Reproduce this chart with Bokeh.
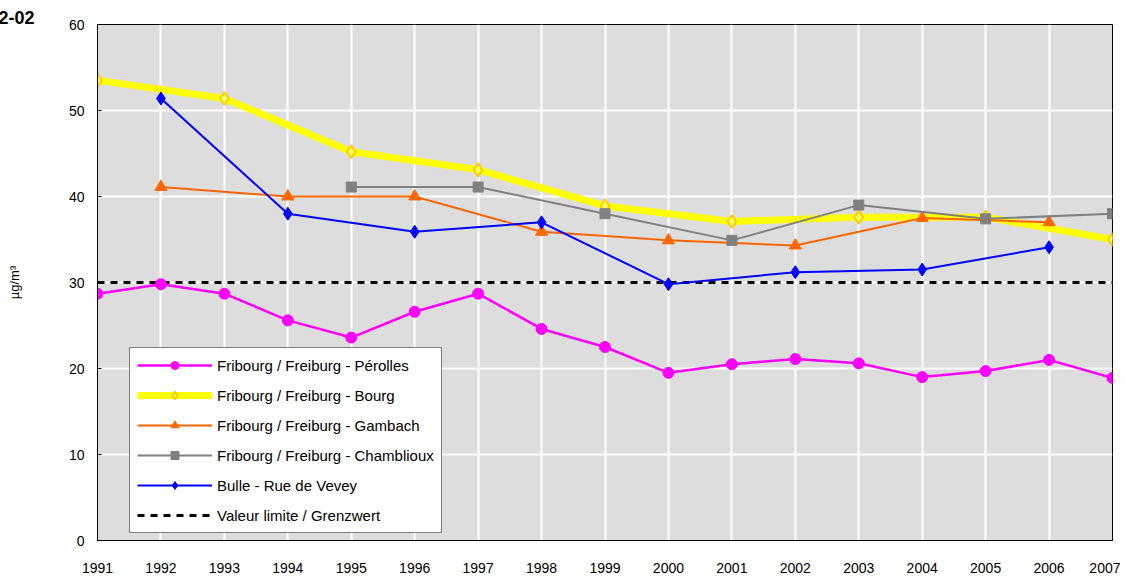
from bokeh.plotting import figure
from bokeh.models import FixedTicker, Range1d, Legend, LegendItem
from bokeh.embed import file_html
from bokeh.resources import INLINE

years_perolles = [1991, 1992, 1993, 1994, 1995, 1996, 1997, 1998, 1999, 2000, 2001, 2002, 2003, 2004, 2005, 2006, 2007]
perolles = [28.7, 29.8, 28.7, 25.6, 23.6, 26.6, 28.7, 24.6, 22.5, 19.5, 20.5, 21.1, 20.6, 19.0, 19.7, 21.0, 18.9]

years_bourg = [1991, 1993, 1995, 1997, 1999, 2001, 2003, 2005, 2007]
bourg = [53.5, 51.4, 45.2, 43.1, 38.9, 37.1, 37.6, 37.6, 35.0]

years_gambach = [1992, 1994, 1996, 1998, 2000, 2002, 2004, 2006]
gambach = [41.1, 40.0, 40.0, 35.9, 34.9, 34.3, 37.5, 37.0]

years_chamblioux = [1995, 1997, 1999, 2001, 2003, 2005, 2007]
chamblioux = [41.1, 41.1, 38.0, 34.9, 39.0, 37.4, 38.0]

years_bulle = [1992, 1994, 1996, 1998, 2000, 2002, 2004, 2006]
bulle = [51.4, 38.0, 35.9, 37.0, 29.8, 31.2, 31.5, 34.1]

limit_years = [1991, 2007]
limit_value = 30

tick_years = list(range(1991, 2008))
y_ticks = [0, 10, 20, 30, 40, 50, 60]

FONT = "Liberation Sans"

p = figure(width=1120, height=575, output_backend="svg", toolbar_location=None,
           x_range=Range1d(1991, 2007), y_range=Range1d(0, 60),
           min_border_left=97, min_border_right=8, min_border_top=24, min_border_bottom=33,
           title="2-02")

p.title.align = "left"
p.title.offset = -99
p.title.text_font = FONT
p.title.text_font_size = "18px"
p.title.text_font_style = "bold"
p.title.text_color = "black"
p.title.standoff = 1

p.background_fill_color = "#DDDDDD"
p.border_fill_color = "white"
p.outline_line_color = "black"
p.outline_line_width = 1

p.xaxis.ticker = FixedTicker(ticks=tick_years)
p.yaxis.ticker = FixedTicker(ticks=y_ticks)
p.xgrid.grid_line_color = "white"
p.ygrid.grid_line_color = "white"
p.xgrid.grid_line_width = 2
p.ygrid.grid_line_width = 2

for ax in (p.xaxis, p.yaxis):
    ax.major_label_text_font = FONT
    ax.major_label_text_font_size = "14px"
    ax.major_label_text_color = "black"
    ax.axis_line_color = "black"
    ax.minor_tick_line_color = None
p.xaxis.major_tick_line_color = None
p.xaxis.major_label_standoff = 16
p.yaxis.major_tick_in = 4
p.yaxis.major_tick_out = 0
p.yaxis.major_label_standoff = 13
p.yaxis.axis_label = "µg/m³"
p.yaxis.axis_label_text_font = FONT
p.yaxis.axis_label_text_font_size = "13px"
p.yaxis.axis_label_text_font_style = "normal"
p.yaxis.axis_label_text_color = "black"
p.yaxis.axis_label_standoff = 44

# limit line
r_lim = p.line(limit_years, [limit_value, limit_value], line_color="black", line_width=3, line_dash="7 6")

r_bl = p.line(years_bourg, bourg, line_color="#FFFF00", line_width=7)
r_bm = p.scatter(years_bourg, bourg, marker="diamond", size=13, fill_color="#FFFF66",
                 line_color="#FFCC00", line_width=2)

r_gl = p.line(years_gambach, gambach, line_color="#FF6600", line_width=2)
r_gm = p.scatter(years_gambach, gambach, marker="triangle", size=12, fill_color="#FF6600", line_color="#FF6600")

r_cl = p.line(years_chamblioux, chamblioux, line_color="#808080", line_width=2)
r_cm = p.scatter(years_chamblioux, chamblioux, marker="square", size=10, fill_color="#808080", line_color="#808080")

r_ul = p.line(years_bulle, bulle, line_color="#0000FF", line_width=2)
r_um = p.scatter(years_bulle, bulle, marker="diamond", size=13, fill_color="#0000FF", line_color="#0000FF")

r_pl = p.line(years_perolles, perolles, line_color="#FF00FF", line_width=2.5)
r_pm = p.scatter(years_perolles, perolles, marker="circle", size=11, fill_color="#FF00FF", line_color="#FF00FF")

legend = Legend(items=[
    LegendItem(label="Fribourg / Freiburg - Pérolles", renderers=[r_pl, r_pm]),
    LegendItem(label="Fribourg / Freiburg - Bourg", renderers=[r_bl, r_bm]),
    LegendItem(label="Fribourg / Freiburg - Gambach", renderers=[r_gl, r_gm]),
    LegendItem(label="Fribourg / Freiburg - Chamblioux", renderers=[r_cl, r_cm]),
    LegendItem(label="Bulle - Rue de Vevey", renderers=[r_ul, r_um]),
    LegendItem(label="Valeur limite / Grenzwert", renderers=[r_lim]),
], location=(32, 7))
legend.label_text_font = FONT
legend.label_text_font_size = "15px"
legend.label_text_color = "black"
legend.glyph_width = 75
legend.glyph_height = 20
legend.label_height = 20
legend.label_standoff = 5
legend.spacing = 10
legend.padding = 7
legend.margin = 0
legend.border_line_color = "black"
legend.border_line_width = 1
legend.background_fill_color = "white"
legend.background_fill_alpha = 1
p.add_layout(legend)

open("out.html", "w").write(file_html(p, INLINE))
